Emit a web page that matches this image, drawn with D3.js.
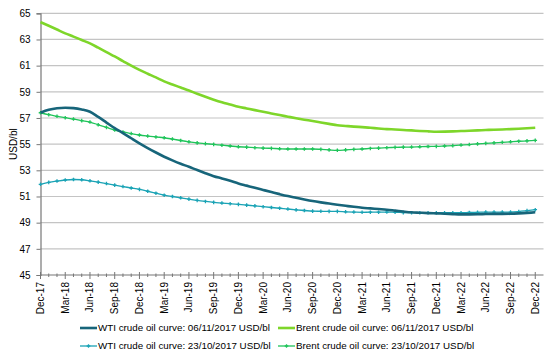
<!DOCTYPE html>
<html>
<head>
<meta charset="utf-8">
<script src="https://cdn.jsdelivr.net/npm/d3@7"></script>
<style>
  body { margin: 0; background: #fff; }
  svg text { font-family: "Liberation Sans", Arial, sans-serif; fill: #000; }
</style>
</head>
<body>
<div id="chart"></div>
<script>
// monthly contract months, Dec-17 .. Dec-22
const monthNames = ["Jan","Feb","Mar","Apr","May","Jun","Jul","Aug","Sep","Oct","Nov","Dec"];
const months = d3.range(61).map(i => {
    const m = (11 + i) % 12, yr = 17 + Math.floor((11 + i) / 12);
    return monthNames[m] + "-" + yr;
});
const yTicks = [45, 47, 49, 51, 53, 55, 57, 59, 61, 63, 65];

const wtiNov = [57.40,57.62,57.74,57.78,57.75,57.65,57.48,57.08,56.65,56.22,55.85,55.45,55.06,54.70,54.36,54.04,53.76,53.50,53.27,53.02,52.78,52.55,52.38,52.20,52.00,51.83,51.66,51.50,51.34,51.18,51.03,50.90,50.77,50.65,50.55,50.46,50.37,50.29,50.21,50.14,50.09,50.04,49.99,49.92,49.85,49.79,49.76,49.73,49.71,49.68,49.65,49.63,49.63,49.64,49.66,49.67,49.67,49.68,49.71,49.75,49.79];
const brentNov = [64.33,64.05,63.76,63.47,63.22,62.96,62.70,62.37,62.03,61.70,61.35,61.00,60.67,60.38,60.10,59.80,59.56,59.33,59.10,58.85,58.62,58.40,58.20,58.03,57.86,57.73,57.60,57.48,57.35,57.22,57.10,56.98,56.87,56.77,56.66,56.55,56.44,56.39,56.34,56.30,56.25,56.20,56.15,56.12,56.08,56.05,56.01,55.98,55.95,55.96,55.98,56.00,56.02,56.05,56.08,56.10,56.12,56.15,56.18,56.21,56.25];
const wtiOct = [51.93,52.08,52.18,52.26,52.30,52.28,52.20,52.10,51.99,51.87,51.76,51.65,51.54,51.40,51.25,51.10,51.00,50.90,50.80,50.70,50.62,50.55,50.50,50.45,50.40,50.34,50.28,50.22,50.16,50.10,50.04,49.98,49.93,49.88,49.87,49.86,49.86,49.83,49.81,49.79,49.80,49.80,49.81,49.79,49.77,49.76,49.76,49.76,49.76,49.76,49.76,49.76,49.78,49.79,49.81,49.81,49.81,49.81,49.85,49.92,49.99];
const brentOct = [57.40,57.25,57.13,57.02,56.92,56.80,56.69,56.48,56.28,56.08,55.93,55.81,55.70,55.62,55.55,55.49,55.39,55.28,55.18,55.10,55.04,54.98,54.92,54.86,54.80,54.77,54.73,54.70,54.68,54.65,54.63,54.63,54.63,54.63,54.60,54.56,54.53,54.56,54.60,54.63,54.67,54.70,54.73,54.75,54.77,54.78,54.80,54.82,54.83,54.86,54.89,54.93,54.97,55.02,55.06,55.10,55.14,55.18,55.22,55.25,55.29];

const series = [
    {name: "WTI crude oil curve: 06/11/2017 USD/bl",   values: wtiNov,   color: "#17657a", width: 2.6, marker: false},
    {name: "Brent crude oil curve: 06/11/2017 USD/bl", values: brentNov, color: "#7ed62a", width: 2.6, marker: false},
    {name: "WTI crude oil curve: 23/10/2017 USD/bl",   values: wtiOct,   color: "#1aa3b5", width: 1.3, marker: true},
    {name: "Brent crude oil curve: 23/10/2017 USD/bl", values: brentOct, color: "#1fc45a", width: 1.3, marker: true}
];

const W = 553, H = 359;
const pLeft = 40.5, pRight = 543.5, pTop = 13.3, pBottom = 275;

const svg = d3.select("#chart").append("svg").attr("width", W).attr("height", H);

const x = d3.scaleLinear().domain([0, 61]).range([pLeft, pRight]);
const y = d3.scaleLinear().domain([45, 65]).range([pBottom, pTop]);

// gridlines
svg.append("g").selectAll("line").data(yTicks.slice(1)).join("line")
    .attr("x1", pLeft).attr("x2", pRight)
    .attr("y1", d => y(d)).attr("y2", d => y(d))
    .attr("stroke", "#c4c4c4").attr("stroke-width", 1.2);

// y axis
const yAxis = svg.append("g").attr("transform", `translate(${pLeft},0)`)
    .call(d3.axisLeft(y).tickValues(yTicks).tickSize(4).tickPadding(6));
yAxis.select(".domain").attr("stroke", "#777").attr("stroke-width", 1.2);
yAxis.selectAll(".tick line").attr("stroke", "#777");
yAxis.selectAll("text").attr("font-size", "10px")
    .style("font-family", "'Liberation Sans', Arial, sans-serif");

svg.append("text")
    .attr("transform", `translate(13,${(pTop + pBottom) / 2}) rotate(-90)`)
    .attr("text-anchor", "middle").attr("dy", "0.35em")
    .attr("font-size", "10px").text("USD/bl");

// x axis: line, minor ticks monthly, major every 3 months
const xg = svg.append("g");
xg.append("line").attr("x1", pLeft).attr("x2", pRight).attr("y1", pBottom).attr("y2", pBottom)
    .attr("stroke", "#777").attr("stroke-width", 1.2);
xg.selectAll(".minor").data(d3.range(61)).join("line").attr("class", "minor")
    .attr("x1", d => x(d)).attr("x2", d => x(d))
    .attr("y1", d => d % 3 === 0 ? pBottom - 3 : pBottom - 1.5)
    .attr("y2", d => d % 3 === 0 ? pBottom + 4 : pBottom + 2)
    .attr("stroke", "#777");
xg.selectAll(".lab").data(d3.range(0, 61, 3)).join("text").attr("class", "lab")
    .attr("transform", d => `translate(${x(d) + 3.5},${pBottom + 7}) rotate(-90)`)
    .attr("text-anchor", "end")
    .attr("font-size", "10px")
    .text(d => months[d]);

// lines
const line = d3.line().x((d, i) => x(i)).y(d => y(d)).curve(d3.curveMonotoneX);
const drawOrder = [series[3], series[2], series[1], series[0]];
drawOrder.forEach(s => {
    svg.append("path").datum(s.values)
        .attr("fill", "none").attr("stroke", s.color)
        .attr("stroke-width", s.width).attr("stroke-linejoin", "round")
        .attr("d", line);
    if (s.marker) {
        svg.append("g").selectAll("path").data(s.values).join("path")
            .attr("d", (d, i) => `M${x(i) - 1.8},${y(d)}h3.6M${x(i)},${y(d) - 1.8}v3.6`)
            .attr("stroke", s.color).attr("stroke-width", 1.3);
    }
});

// legend
const legendPos = [[80, 328], [278, 328], [80, 346], [278, 346]];
series.forEach((s, i) => {
    const [lx, ly] = legendPos[i];
    const g = svg.append("g").attr("transform", `translate(${lx},${ly})`);
    g.append("line").attr("x1", 0).attr("x2", 17).attr("y1", 0).attr("y2", 0)
        .attr("stroke", s.color).attr("stroke-width", s.width);
    if (s.marker) {
        g.append("path").attr("d", "M6.7,0h3.6M8.5,-1.8v3.6")
            .attr("stroke", s.color).attr("stroke-width", 1.3);
    }
    g.append("text").attr("x", 18).attr("dy", "0.35em")
        .attr("font-size", "9.8px").text(s.name);
});
</script>
</body>
</html>
